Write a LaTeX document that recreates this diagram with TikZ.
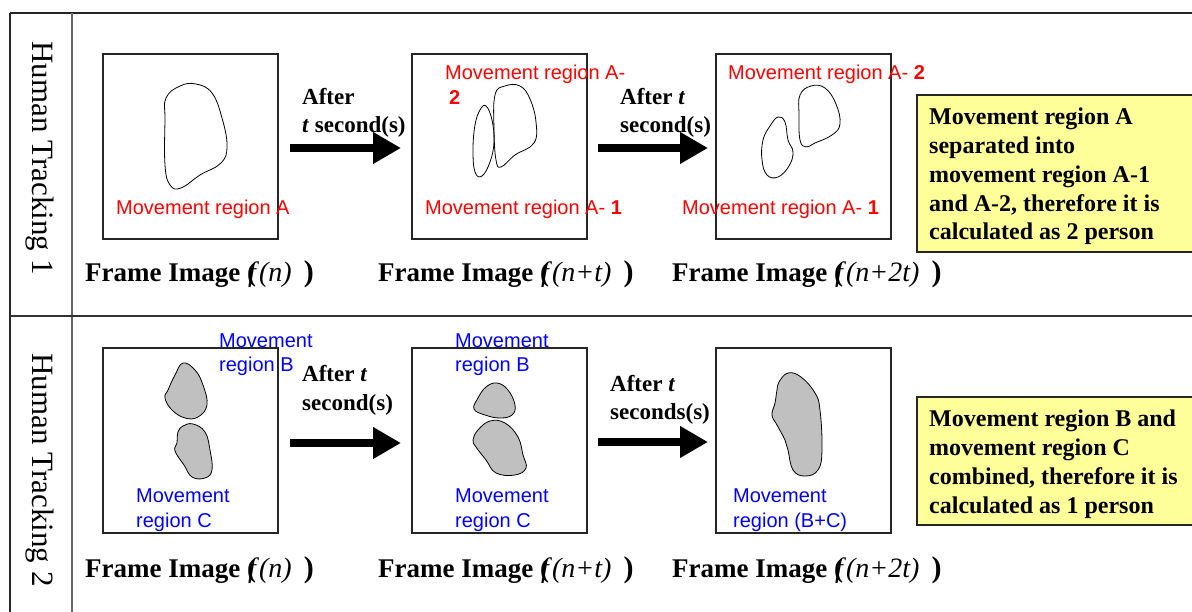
\documentclass[tikz,border=0pt]{standalone}
\usepackage{fontspec}
\setmainfont{Liberation Serif}
\setsansfont{Liberation Sans}
\usetikzlibrary{arrows.meta}
\definecolor{yel}{HTML}{FFFF99}
\definecolor{blobgray}{HTML}{C0C0C0}
\newcommand{\fcap}[1]{Frame Image (\kern-0.3em{\mdseries\itshape\fontsize{28}{30}\selectfont f\kern0.12em(#1)}\hspace{0.45em}{\fontsize{30}{30}\selectfont)}}
\begin{document}
\begin{tikzpicture}[x=1pt,y=-1pt,
 framebox/.style={draw=black!85,line width=1.2pt,minimum width=175,minimum height=185,anchor=north west,inner sep=0,outer sep=0},
 captext/.style={anchor=base west,inner sep=0,font=\fontsize{27}{30}\selectfont\bfseries},
 afttext/.style={anchor=base west,inner sep=0,align=left,font=\fontsize{23}{28.5}\selectfont\bfseries},
 redlab/.style={anchor=base west,inner sep=0,text=red,font=\sffamily\fontsize{20}{24}\selectfont},
 bluelab/.style={anchor=base west,inner sep=0,text=blue,align=left,font=\sffamily\fontsize{20}{24.5}\selectfont},
 notetext/.style={anchor=base west,inner sep=0,align=left,font=\fontsize{24}{28.8}\selectfont\bfseries},
 notebox/.style={draw=black!85,fill=yel,line width=1.2pt,anchor=north west,inner sep=0,outer sep=0},
 blob/.style={draw=black,line width=0.8pt},
 gblob/.style={draw=black,fill=blobgray,line width=0.8pt},
 bigarrow/.style={line width=8pt,-{Triangle[length=28pt,width=30pt]}},
 vlab/.style={anchor=base,rotate=-90,inner sep=0,font=\fontsize{31}{34}\selectfont}
]
\useasboundingbox (0,0) rectangle (1192,612);
\clip (0,0) rectangle (1192,612);
% table
\draw[line width=1.8pt, black!85] (10,13) -- (1200,13);
\draw[line width=1.5pt, black!85] (10,13) -- (10,620);
\draw[line width=1.2pt, black!60] (72,13) -- (72,620);
\draw[line width=1.5pt, black!80] (10,316) -- (1200,316);
\node[vlab] (h1) at (32,158) {Human Tracking 1};
\node[vlab] (h2) at (32,470) {Human Tracking 2};

% row 1 frames
\node[framebox] (f11) at (103,54) {};
\node[framebox] (f12) at (412,54) {};
\node[framebox] (f13) at (716,54) {};
% row 2 frames
\node[framebox] (f21) at (103,348) {};
\node[framebox] (f22) at (412,348) {};
\node[framebox] (f23) at (716,348) {};

% yellow notes
\node[notebox,minimum width=290,minimum height=157] (n1) at (917,95) {};
\node[notebox,minimum width=290,minimum height=128] (n2) at (917,397) {};
\node[notetext] (t1) at (929,240) {Movement region A\\separated into\\movement region A-1\\and A-2, therefore it is\\calculated as 2 person};
\node[notetext] (t2) at (929,513) {Movement region B and\\movement region C\\combined, therefore it is\\calculated as 1 person};

% arrows
\coordinate (a11s) at (290,148); \coordinate (a11e) at (401,148);
\coordinate (a12s) at (598,148); \coordinate (a12e) at (708,148);
\coordinate (a21s) at (290,443); \coordinate (a21e) at (401,443);
\coordinate (a22s) at (598,442); \coordinate (a22e) at (708,442);
\draw[bigarrow] (a11s) -- (a11e);
\draw[bigarrow] (a12s) -- (a12e);
\draw[bigarrow] (a21s) -- (a21e);
\draw[bigarrow] (a22s) -- (a22e);
\node[afttext] (l11) at (302,133) {After\\\textit{t} second(s)};
\node[afttext] (l12) at (620,133) {After \textit{t}\\second(s)};
\node[afttext] (l21) at (302,410) {After \textit{t}\\second(s)};
\node[afttext] (l22) at (610,420) {After \textit{t}\\seconds(s)};

% captions
\node[captext] (c11) at (85,282) {\fcap{n}};
\node[captext] (c12) at (378,282) {\fcap{n+t}};
\node[captext] (c13) at (672,282) {\fcap{n+2t}};
\node[captext] (c21) at (85,577) {\fcap{n}};
\node[captext] (c22) at (378,577) {\fcap{n+t}};
\node[captext] (c23) at (672,577) {\fcap{n+2t}};

% red labels
\node[redlab] (ra) at (116,215) {Movement region A};
\node[redlab] (ra2t) at (445,80) {Movement region A-};
\node[redlab,font=\sffamily\bfseries\fontsize{20}{24}\selectfont] (ra2n) at (449,105) {2};
\node[redlab] (ra1b) at (425,215) {Movement region A- \textbf{1}};
\node[redlab] (ra2c) at (728,80) {Movement region A- \textbf{2}};
\node[redlab] (ra1c) at (682,215) {Movement region A- \textbf{1}};

% blue labels
\node[bluelab] (b1) at (219,372) {Movement\\region B};
\node[bluelab] (c1) at (136,527) {Movement\\region C};
\node[bluelab] (b2) at (455,372) {Movement\\region B};
\node[bluelab] (c2) at (455,527) {Movement\\region C};
\node[bluelab] (bc3) at (733,527) {Movement\\region (B+C)};

% row 1 blobs
\draw[blob] plot[smooth cycle,tension=0.7] coordinates {(166,98) (180,86) (196,84) (212,93) (222,118) (227,146) (221,163) (200,175) (181,188) (170,185) (165,165) (165,120)};
\draw[blob] plot[smooth cycle,tension=0.7] coordinates {(486,106) (492,120) (494,142) (490,162) (482,176) (475,172) (473,150) (475,125) (480,110)};
\draw[blob] plot[smooth cycle,tension=0.7] coordinates {(495,95) (505,86) (520,86) (530,99) (536,122) (534,143) (515,155) (501,167) (496,160) (494,130)};
\draw[blob] plot[smooth cycle,tension=0.7] coordinates {(778,117) (785,122) (788,140) (793,152) (789,166) (778,177) (767,175) (762,160) (763,140) (770,126)};
\draw[blob] plot[smooth cycle,tension=0.7] coordinates {(800,95) (811,86) (825,88) (836,104) (840,124) (832,135) (815,143) (806,147) (800,140) (799,115)};

% row 2 blobs
\draw[gblob] plot[smooth cycle,tension=0.7] coordinates {(183,363) (195,370) (203,385) (207,405) (198,417) (185,418) (172,410) (165,398) (168,390) (175,375)};
\draw[gblob] plot[smooth cycle,tension=0.7] coordinates {(183,426) (193,424) (205,432) (210,450) (212,470) (205,478) (192,477) (184,465) (175,451) (177,443) (178,432)};
\draw[gblob] plot[smooth cycle,tension=0.7] coordinates {(478,398) (486,387) (497,383) (508,390) (515,405) (512,415) (500,418) (485,415) (474,409)};
\draw[gblob] plot[smooth cycle,tension=0.7] coordinates {(478,430) (490,421) (505,423) (518,437) (523,455) (526,468) (515,475) (496,473) (486,460) (476,447) (473,440)};
\draw[gblob] plot[smooth cycle,tension=0.7] coordinates {(779,382) (788,373) (801,377) (815,393) (820,410) (822,450) (818,470) (805,476) (793,470) (788,450) (785,440) (777,425) (772,415) (775,403) (777,390)};
\end{tikzpicture}
\end{document}
